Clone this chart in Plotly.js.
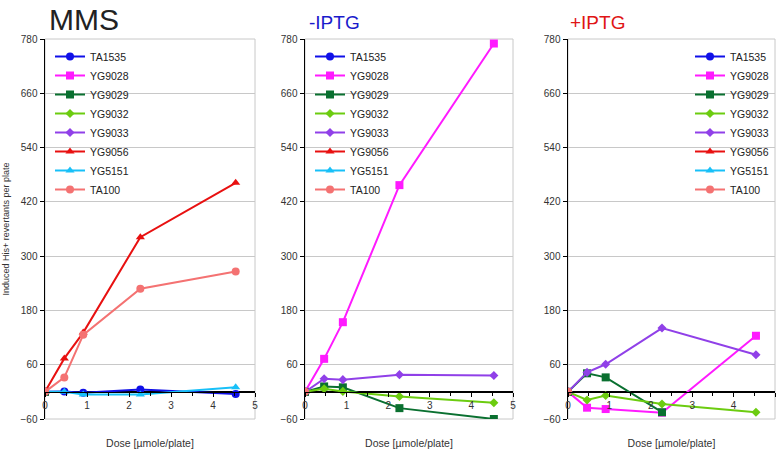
<!DOCTYPE html>
<html>
<head>
<meta charset="utf-8">
<script src="https://cdn.plot.ly/plotly-3.0.1.min.js"></script>
<style>
  html, body { margin: 0; padding: 0; background: #fff; }
  #chart { width: 778px; height: 449px; }
</style>
</head>
<body>
<div id="chart"></div>
<script>
'use strict';

// dose in umole/plate
const dose = [0, 0.46, 0.91, 2.27, 4.54];

const strains = ["TA1535", "YG9028", "YG9029", "YG9032", "YG9033", "YG9056", "YG5151", "TA100"];

// MMS panel
const mms_TA1535 = [0, 1, -2, 5, -5];
const mms_YG9028 = [0, null, null, null, null];
const mms_YG9029 = [0, null, null, null, null];
const mms_YG9032 = [0, null, null, null, null];
const mms_YG9033 = [0, null, null, null, null];
const mms_YG9056 = [0, 74, 131, 342, 462];
const mms_YG5151 = [0, 0, -6, -6, 10];
const mms_TA100 = [0, 32, 126, 228, 266];

// -IPTG panel
const minus_TA1535 = [0, null, null, null, null];
const minus_YG9028 = [0, 73, 154, 457, 770];
const minus_YG9029 = [0, 12, 10, -36, -60];
const minus_YG9032 = [0, 7, 1, -10, -24];
const minus_YG9033 = [0, 29, 27, 38, 36];
const minus_YG9056 = [0, null, null, null, null];
const minus_YG5151 = [0, null, null, null, null];
const minus_TA100 = [0, null, null, null, null];

// +IPTG panel
const plus_TA1535 = [0, null, null, null, null];
const plus_YG9028 = [0, -35, -38, -46, 124];
const plus_YG9029 = [0, 41, 32, -45, null];
const plus_YG9032 = [0, -18, -8, -27, -45];
const plus_YG9033 = [0, 43, 61, 141, 82];
const plus_YG9056 = [0, null, null, null, null];
const plus_YG5151 = [0, null, null, null, null];
const plus_TA100 = [0, null, null, null, null];

const panelTitles = ["MMS", "-IPTG", "+IPTG"];
const yTicks = [-60, 60, 180, 300, 420, 540, 660, 780];

document.addEventListener('DOMContentLoaded', function(){

	const colors = ["#1010e8", "#ff1aff", "#0a7030", "#6ccc10", "#9040e8", "#e81010", "#18c0f8", "#f47272"];
	const symbols = ["circle", "square", "square", "diamond", "diamond", "triangle-up", "triangle-up", "circle"];
	const sizes = [8, 8, 8, 7, 7, 8, 8, 8];

	const panels = [
		[mms_TA1535, mms_YG9028, mms_YG9029, mms_YG9032, mms_YG9033, mms_YG9056, mms_YG5151, mms_TA100],
		[minus_TA1535, minus_YG9028, minus_YG9029, minus_YG9032, minus_YG9033, minus_YG9056, minus_YG5151, minus_TA100],
		[plus_TA1535, plus_YG9028, plus_YG9029, plus_YG9032, plus_YG9033, plus_YG9056, plus_YG5151, plus_TA100]
	];

	const data = [];
	panels.forEach(function(series, p){
		const suffix = p === 0 ? "" : String(p + 1);
		series.forEach(function(vals, i){
			data.push({
				x: dose,
				y: vals,
				type: 'scatter',
				mode: 'lines+markers',
				name: strains[i],
				xaxis: 'x' + suffix,
				yaxis: 'y' + suffix,
				legend: 'legend' + suffix,
				line: {color: colors[i], width: 2},
				marker: {color: colors[i], symbol: symbols[i], size: sizes[i]},
				connectgaps: false
			});
		});
	});

	const W = 778, H = 449;
	const xDomains = [[45 / W, 255 / W], [305 / W, 513 / W], [568 / W, 775 / W]];
	const yDomain = [(H - 419) / H, (H - 39) / H];
	// paper position of y = 0
	const zeroPos = yDomain[0] + (yDomain[1] - yDomain[0]) * 60 / 840;

	const fontFamily = 'Liberation Sans, Arial, sans-serif';
	const tickFont = {family: fontFamily, size: 10, color: '#333'};

	const layout = {
		width: W,
		height: H,
		margin: {l: 0, r: 0, t: 0, b: 0},
		paper_bgcolor: '#fff',
		plot_bgcolor: '#fff',
		font: {family: fontFamily, size: 10, color: '#222'},
		annotations: [],
		shapes: []
	};

	const legendX = [50 / W, 310 / W, 774 / W];
	const titleX = [47 / W, 307 / W, 568 / W];
	const titleColors = ['#222', '#1a1acc', '#e01515'];
	const titleSizes = [30, 19, 19];
	const titleY = [1 / H, 10 / H];

	for (let p = 0; p < 3; p++)
	{
		const suffix = p === 0 ? "" : String(p + 1);
		layout['xaxis' + suffix] = {
			domain: xDomains[p],
			range: [0, 5],
			anchor: 'free',
			position: zeroPos,
			dtick: 1,
			ticks: 'outside',
			ticklen: 4,
			tickcolor: '#000',
			minor: {dtick: 0.5, ticks: 'outside', ticklen: 3, tickcolor: '#000'},
			showgrid: false,
			zeroline: false,
			showline: true,
			linecolor: '#000',
			linewidth: 1.5,
			tickfont: tickFont,
			title: {
				text: 'Dose [µmole/plate]',
				font: {family: fontFamily, size: 10.5, color: '#333'},
				standoff: 31
			}
		};
		layout['yaxis' + suffix] = {
			domain: yDomain,
			anchor: 'x' + suffix,
			range: [-60, 780],
			tickvals: yTicks,
			ticks: 'outside',
			ticklen: 4,
			tickcolor: '#000',
			showgrid: true,
			gridcolor: '#c8c8c8',
			gridwidth: 1,
			zeroline: true,
			zerolinecolor: '#000',
			zerolinewidth: 1.5,
			showline: true,
			linecolor: '#000',
			linewidth: 1.5,
			tickfont: tickFont
		};
		layout['legend' + suffix] = {
			x: legendX[p],
			xanchor: p === 2 ? 'right' : 'left',
			y: (H - 42) / H,
			yanchor: 'top',
			bgcolor: 'rgba(0,0,0,0)',
			font: {family: fontFamily, size: 10.5, color: '#222'},
			itemwidth: 30,
			tracegroupgap: 0
		};
		// light frame round the plot area
		layout.shapes.push({
			type: 'rect',
			xref: 'x' + suffix + ' domain',
			yref: 'y' + suffix + ' domain',
			x0: 0, x1: 1, y0: 0, y1: 1,
			line: {color: '#c8c8c8', width: 1},
			layer: 'below'
		});
		layout.annotations.push({
			text: panelTitles[p],
			xref: 'paper',
			yref: 'paper',
			x: titleX[p],
			y: 1 - titleY[p === 0 ? 0 : 1],
			xanchor: 'left',
			yanchor: 'top',
			showarrow: false,
			font: {family: fontFamily, size: titleSizes[p], color: titleColors[p]}
		});
	}

	layout.yaxis.title = {
		text: 'Induced His+ revertants per plate',
		font: {family: fontFamily, size: 9, color: '#333'},
		standoff: 9
	};

	Plotly.newPlot('chart', data, layout, {displayModeBar: false, staticPlot: true});
});
</script>
</body>
</html>
